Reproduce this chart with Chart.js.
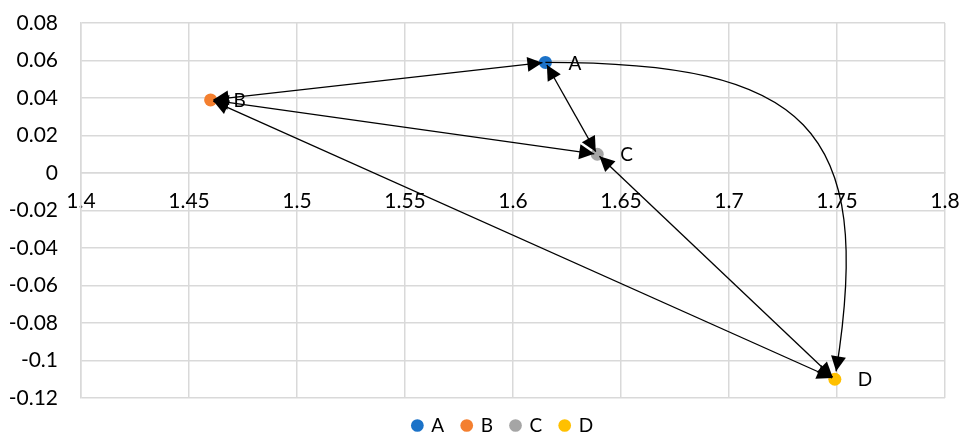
<!DOCTYPE html>
<html>
<head>
<meta charset="utf-8">
<script src="https://cdn.jsdelivr.net/npm/chart.js@4.4.1/dist/chart.umd.min.js"></script>
<style>
  html, body { margin: 0; padding: 0; background: #ffffff; }
  #wrap { width: 960px; height: 437px; position: relative; }
</style>
</head>
<body>
<div id="wrap"><canvas id="c" width="960" height="437"></canvas></div>
<script>
// ---- data ----
const pointNames = ['A', 'B', 'C', 'D'];
const xValues = [1.615, 1.46, 1.639, 1.749];
const yValues = [0.059, 0.039, 0.010, -0.110];
const pointColors = ['#1B72C8', '#F47F2F', '#A5A5A5', '#FFC000'];
// straight connectors with heads at both ends
const straightEdges = [['A', 'B'], ['B', 'C'], ['A', 'C'], ['C', 'D'], ['B', 'D']];
// curved connector with head at the end only
const curvedEdges = [['A', 'D']];
const xMin = 1.4, xMax = 1.8, xStep = 0.05;
const yMin = -0.12, yMax = 0.08, yStep = 0.02;

const FONT = 'Lato, "Open Sans", "DejaVu Sans", sans-serif';

const datasets = pointNames.map((n, i) => ({
  label: n,
  data: [{ x: xValues[i], y: yValues[i] }],
  backgroundColor: pointColors[i],
  borderColor: pointColors[i],
  pointRadius: 6.5,
  pointHoverRadius: 6.5,
  borderWidth: 0
}));

function drawHead(ctx, tx, ty, ux, uy, L, W) {
  const bx = tx - ux * L, by = ty - uy * L;
  ctx.beginPath();
  ctx.moveTo(tx, ty);
  ctx.lineTo(bx - uy * W, by + ux * W);
  ctx.lineTo(bx + uy * W, by - ux * W);
  ctx.closePath();
  ctx.fill();
}

const arrowPlugin = {
  id: 'arrows',
  afterDatasetsDraw(chart) {
    const { ctx, scales: { x, y } } = chart;
    const P = name => {
      const i = pointNames.indexOf(name);
      return { x: x.getPixelForValue(xValues[i]), y: y.getPixelForValue(yValues[i]) };
    };
    const gap = 3, L = 15, W = 7.5;
    ctx.save();
    ctx.strokeStyle = '#000';
    ctx.fillStyle = '#000';
    ctx.lineWidth = 1.3;
    straightEdges.forEach(([a, b]) => {
      const p = P(a), q = P(b);
      const dx = q.x - p.x, dy = q.y - p.y, len = Math.hypot(dx, dy);
      const ux = dx / len, uy = dy / len;
      const s = { x: p.x + ux * gap, y: p.y + uy * gap };
      const e = { x: q.x - ux * gap, y: q.y - uy * gap };
      ctx.beginPath();
      ctx.moveTo(s.x, s.y);
      ctx.lineTo(e.x, e.y);
      ctx.stroke();
      drawHead(ctx, e.x, e.y, ux, uy, L, W);
      drawHead(ctx, s.x, s.y, -ux, -uy, L, W);
    });
    curvedEdges.forEach(([a, b]) => {
      const p = P(a), q = P(b);
      const dx = q.x - p.x, dy = q.y - p.y;
      const c1 = { x: p.x + 0.9 * dx, y: p.y };
      const c2 = { x: q.x + 0.14 * dx, y: p.y + 0.2 * dy };
      let tx = q.x - c2.x, ty = q.y - c2.y;
      const tl = Math.hypot(tx, ty); tx /= tl; ty /= tl;
      const e = { x: q.x - tx * 8, y: q.y - ty * 8 };
      ctx.beginPath();
      ctx.moveTo(p.x, p.y);
      ctx.bezierCurveTo(c1.x, c1.y, c2.x, c2.y, e.x, e.y);
      ctx.stroke();
      drawHead(ctx, e.x, e.y, tx, ty, L, W);
    });
    // point labels
    ctx.font = '19px ' + FONT;
    ctx.textAlign = 'left';
    ctx.textBaseline = 'middle';
    pointNames.forEach(n => {
      const p = P(n);
      ctx.fillText(n, p.x + 23, p.y + 1);
    });
    ctx.restore();
  }
};

const fmt = v => String(+(+v).toFixed(2));

new Chart(document.getElementById('c'), {
  type: 'scatter',
  data: { datasets },
  options: {
    responsive: false,
    animation: false,
    events: [],
    layout: { padding: { top: 23, right: 15, left: 61, bottom: -8 } },
    scales: {
      x: {
        type: 'linear',
        position: { y: 0 },
        min: xMin, max: xMax,
        ticks: { stepSize: xStep, callback: fmt, color: '#000', font: { family: FONT, size: 21 }, padding: 16, maxRotation: 0, autoSkip: false },
        grid: { color: '#d9d9d9', lineWidth: 1.5, drawTicks: false },
        border: { color: '#d9d9d9', width: 1.5 },
        afterFit(scale) { scale.paddingLeft = 0; scale.paddingRight = 0; }
      },
      y: {
        type: 'linear',
        min: yMin, max: yMax,
        ticks: { stepSize: yStep, callback: fmt, color: '#000', font: { family: FONT, size: 21 }, padding: 23 },
        grid: { color: '#d9d9d9', lineWidth: 1.5, drawTicks: false },
        border: { color: '#d9d9d9', width: 1.5 },
        afterFit(scale) {
          scale.width = 20; scale.paddingTop = 0; scale.paddingBottom = 0;
          scale._computeLabelArea = () => undefined;
        }
      }
    },
    plugins: {
      legend: {
        position: 'bottom',
        labels: {
          usePointStyle: true,
          pointStyle: 'circle',
          boxWidth: 9,
          boxHeight: 9,
          padding: 18,
          color: '#000',
          font: { family: FONT, size: 19 }
        }
      },
      tooltip: { enabled: false }
    }
  },
  plugins: [arrowPlugin]
});
</script>
</body>
</html>
